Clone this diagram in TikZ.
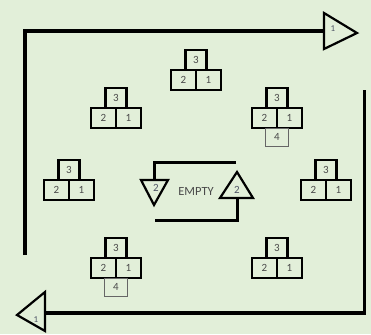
\documentclass[tikz,border=0pt]{standalone}
\usepackage{fontspec}
\setmainfont{Carlito}
\definecolor{bg}{HTML}{E2EFD9}
\definecolor{txt}{HTML}{4A4A4A}
\definecolor{lbl}{HTML}{4F5566}
\newcommand\pyramid[3]{%
  \node[topbox] (#1t) at (#2,#3+10) {3};
  \node[blk] (#1l) at (#2-12.5,#3+30) {2};
  \node[blk] (#1r) at (#2+12.5,#3+30) {1};
}
\begin{document}
\begin{tikzpicture}[x=1pt,y=-1pt,
  blk/.style={draw=black, line width=2.4pt, minimum width=25pt, minimum height=20pt, inner sep=0pt, text=txt, font=\fontsize{11}{11}\selectfont},
  topbox/.style={blk, minimum width=21pt},
  fourbox/.style={draw=black!60, line width=0.7pt, minimum width=23pt, minimum height=18pt, inner sep=0pt, text=txt, font=\fontsize{11}{11}\selectfont},
  loop/.style={draw=black, line width=3.4pt},
  inner/.style={draw=black, line width=3pt},
  tri/.style={draw=black, line width=2.2pt, line join=miter},
  tlbl/.style={text=lbl, inner sep=0pt, font=\fontsize{9}{9}\selectfont},
  word/.style={text=txt, inner sep=0pt, font=\fontsize{12.5}{12.5}\selectfont}
]
\fill[bg] (0,0) rectangle (371,334);
\useasboundingbox (0,0) rectangle (371,334);

% outer loop
\coordinate (a1) at (25,255);
\coordinate (a2) at (25,31);
\coordinate (a3) at (324,31);
\coordinate (b1) at (364.5,90);
\coordinate (b2) at (364.5,313);
\coordinate (b3) at (45,313);
\draw[loop, line cap=butt] (a1) -- (a2) -- (a3);
\draw[loop] (b1) -- (b2) -- (b3);

% arrow triangles
\draw[tri] (324,13) -- (324,49) -- (357,33) -- cycle;
\node[tlbl] (n1a) at (333,29) {1};
\draw[tri] (45,292) -- (45,331) -- (17,315) -- cycle;
\node[tlbl] (n1b) at (36,320) {1};

% centre loop
\coordinate (c1) at (236,162);
\coordinate (c2) at (154,162);
\coordinate (c3) at (154,180);
\draw[inner] (c1) -- (c2) -- (c3);
\draw[tri] (141,180) -- (168,180) -- (154,205) -- cycle;
\node[tlbl, font=\fontsize{11}{11}\selectfont] (n2a) at (156,188) {2};
\draw[tri] (237,172) -- (253,198) -- (220,198) -- cycle;
\node[tlbl, font=\fontsize{11}{11}\selectfont] (n2b) at (237,190) {2};
\coordinate (d1) at (237,198);
\coordinate (d2) at (237,220);
\coordinate (d3) at (155,220);
\draw[inner] (d1) -- (d2) -- (d3);
\node[word] (empty) at (196,191) {EMPTY};

% pyramids
\pyramid{p1}{196}{50}
\pyramid{p2}{116}{88}
\pyramid{p3}{277}{88}
\node[fourbox] (p3f) at (277,137) {4};
\pyramid{p4}{69}{160}
\pyramid{p5}{326}{160}
\pyramid{p6}{116}{238}
\node[fourbox] (p6f) at (116,287) {4};
\pyramid{p7}{277}{238}
\end{tikzpicture}
\end{document}
